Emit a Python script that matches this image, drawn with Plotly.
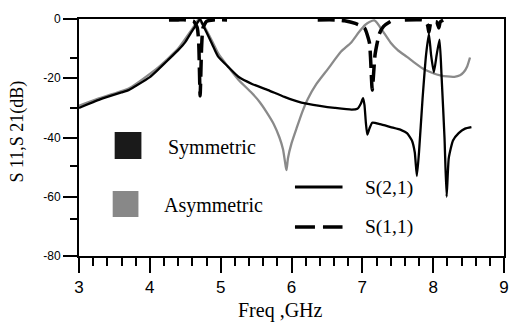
import plotly.graph_objects as go

# ---------------- data ----------------
sym_s21_f = [3.00, 3.28, 3.40, 3.60, 3.70, 3.80, 4.00, 4.12, 4.25, 4.40, 4.50, 4.58, 4.64, 4.68, 4.71,
             4.74, 4.80, 4.88, 4.96, 5.10, 5.25, 5.45, 5.67, 5.90, 6.14, 6.40, 6.61, 6.85, 6.93, 6.98,
             7.01, 7.03, 7.05, 7.07, 7.10, 7.14, 7.25, 7.40, 7.55, 7.63, 7.70, 7.74, 7.77, 7.80, 7.85,
             7.90, 7.94, 7.97, 8.01, 8.05, 8.09, 8.12, 8.16, 8.19, 8.22, 8.28, 8.36, 8.45, 8.54]
sym_s21_db = [-30.0, -27.3, -26.3, -24.8, -24.0, -22.6, -19.6, -17.0, -14.0, -10.5, -7.8, -4.7, -2.5, -1.0, 0.0,
              -1.5, -4.5, -8.5, -12.5, -16.0, -19.5, -22.0, -24.0, -26.3, -28.2, -29.3, -30.0, -30.6, -30.3, -28.5,
              -26.7, -29.0, -35.0, -39.0, -37.0, -35.0, -35.5, -36.5, -37.5, -38.5, -41.0, -45.0, -53.0, -45.0, -27.0,
              -12.0, -5.0, -12.0, -18.0, -12.0, -7.0, -20.0, -40.0, -60.0, -47.0, -41.0, -38.5, -37.0, -36.5]

asym_s21_f = [3.00, 3.28, 3.70, 4.12, 4.40, 4.58, 4.65, 4.69, 4.72, 4.78, 4.88, 4.97, 5.10, 5.25, 5.44,
              5.55, 5.65, 5.75, 5.83, 5.88, 5.92, 5.93, 5.95, 6.00, 6.07, 6.15, 6.23, 6.35, 6.51, 6.70,
              6.84, 6.95, 7.04, 7.10, 7.17, 7.23, 7.30, 7.40, 7.50, 7.63, 7.75, 7.87, 8.00, 8.10, 8.20,
              8.30, 8.38, 8.43, 8.48, 8.52]
asym_s21_db = [-29.3, -26.8, -23.5, -16.3, -10.0, -4.0, -1.5, 0.0, -1.0, -3.0, -7.5, -11.8, -16.0, -20.5, -25.0,
               -28.0, -31.5, -35.5, -40.0, -44.0, -50.0, -51.0, -47.0, -42.0, -37.0, -31.5, -27.0, -22.0, -17.0, -11.0,
               -8.0, -4.5, -2.0, -1.0, -0.5, -2.0, -4.5, -8.0, -10.5, -12.8, -15.0, -17.0, -18.3, -19.0, -19.4,
               -19.5, -19.0, -18.0, -16.0, -13.0]

# S11 is only visible in a few stretches (elsewhere it hides under the top frame) -> None gaps
sym_s11_f = [4.27, 4.40, 4.51, 4.62, 4.67, 4.69, 4.71, 4.73, 4.75, 4.80, 4.90, 5.09, None,
             6.37, 6.61, 6.75, 6.90, 7.03, 7.10, 7.14, 7.18, 7.24, 7.30, 7.40, 7.45, None,
             7.60, 7.87, 7.92, 7.94, 7.97, 8.05, 8.08, 8.10, 8.15]
sym_s11_db = [-0.3, -0.3, -0.3, -0.8, -3.0, -8.0, -26.0, -10.0, -3.0, -0.8, -0.3, -0.3, None,
              -0.3, -0.3, -0.6, -1.5, -3.0, -8.0, -24.0, -12.0, -5.0, -2.5, -0.8, -0.4, None,
              -0.3, -0.4, -2.0, -4.5, -1.0, -1.0, -3.0, -1.0, -0.3]

x_range = [3, 9]
y_range = [-80, 0]
x_ticks = [3, 4, 5, 6, 7, 8, 9]
y_ticks = [0, -20, -40, -60, -80]
y_minor_ticks = [-13.3, -30, -49.6, -67.5]

legend_groups = ["Symmetric", "Asymmetric"]
legend_lines = ["S(2,1)", "S(1,1)"]

# ---------------- figure ----------------
W, H = 521, 322
ML, MR, MT, MB = 79, 13, 19, 66
PW, PH = W - ML - MR, H - MT - MB


def px(x):
    return (x - ML) / PW


def py(y):
    return (H - MB - y) / PH


fig = go.Figure()
fig.add_trace(go.Scatter(x=asym_s21_f, y=asym_s21_db, mode="lines",
                         line=dict(color="#8a8a8a", width=2.3, shape="spline", smoothing=0.5),
                         showlegend=False))
fig.add_trace(go.Scatter(x=sym_s21_f, y=sym_s21_db, mode="lines",
                         line=dict(color="#000000", width=2.3, shape="spline", smoothing=0.5),
                         showlegend=False))
fig.add_trace(go.Scatter(x=sym_s11_f, y=sym_s11_db, mode="lines", connectgaps=False,
                         line=dict(color="#000000", width=3.5, dash="17px,7px", shape="spline", smoothing=0.5),
                         showlegend=False))

shapes = [
    dict(type="rect", xref="paper", yref="paper", x0=px(115), x1=px(142), y0=py(159), y1=py(132),
         fillcolor="#1a1a1a", line=dict(width=0)),
    dict(type="rect", xref="paper", yref="paper", x0=px(113), x1=px(139), y0=py(217), y1=py(191),
         fillcolor="#888888", line=dict(width=0)),
    dict(type="line", xref="paper", yref="paper", x0=px(297), x1=px(345), y0=py(187), y1=py(187),
         line=dict(color="black", width=3)),
    dict(type="line", xref="paper", yref="paper", x0=px(297), x1=px(345), y0=py(227), y1=py(227),
         line=dict(color="black", width=3.5, dash="20px,8px")),
]

serif = "Liberation Serif, Times New Roman, serif"
annotations = [
    dict(text=legend_groups[0], x=px(167), y=py(147), xref="paper", yref="paper", xanchor="left",
         yanchor="middle", showarrow=False, font=dict(family=serif, size=20, color="black")),
    dict(text=legend_groups[1], x=px(163), y=py(205), xref="paper", yref="paper", xanchor="left",
         yanchor="middle", showarrow=False, font=dict(family=serif, size=20, color="black")),
    dict(text=legend_lines[0], x=px(366), y=py(188), xref="paper", yref="paper", xanchor="left",
         yanchor="middle", showarrow=False, font=dict(family=serif, size=19.5, color="black")),
    dict(text=legend_lines[1], x=px(366), y=py(227), xref="paper", yref="paper", xanchor="left",
         yanchor="middle", showarrow=False, font=dict(family=serif, size=19.5, color="black")),
    dict(text="Freq ,GHz", x=px(282.5), y=py(310), xref="paper", yref="paper", xanchor="center",
         yanchor="middle", showarrow=False, font=dict(family=serif, size=20, color="black")),
    dict(text="S 11,S 21(dB)", x=px(16), y=py(132), xref="paper", yref="paper", xanchor="center",
         yanchor="middle", textangle=-90, showarrow=False, font=dict(family=serif, size=18, color="black")),
]

fig.update_layout(
    width=W, height=H,
    margin=dict(l=ML, r=MR, t=MT, b=MB, pad=0),
    paper_bgcolor="white", plot_bgcolor="white",
    shapes=shapes, annotations=annotations,
    showlegend=False,
)
fig.update_xaxes(range=x_range, tickvals=x_ticks, ticktext=[str(v) for v in x_ticks],
                 showgrid=False, zeroline=False, showline=True, mirror=True, linecolor="black", linewidth=2,
                 ticks="outside", ticklen=15, tickwidth=2, tickcolor="black",
                 tickfont=dict(family="Liberation Sans, Arial, sans-serif", size=17, color="black"),
                 minor=dict(dtick=0.2, tick0=3, ticks="outside", ticklen=8, tickwidth=2, tickcolor="black",
                            showgrid=False))
fig.update_yaxes(range=y_range, tickvals=y_ticks, ticktext=[str(v) for v in y_ticks],
                 showgrid=False, zeroline=False, showline=True, mirror=True, linecolor="black", linewidth=2,
                 ticks="outside", ticklen=14, tickwidth=2, tickcolor="black",
                 tickfont=dict(family="Liberation Sans, Arial, sans-serif", size=12, color="black"),
                 minor=dict(tickvals=y_minor_ticks, ticks="outside", ticklen=7, tickwidth=2, tickcolor="black",
                            showgrid=False))

fig.write_html("out.html")
